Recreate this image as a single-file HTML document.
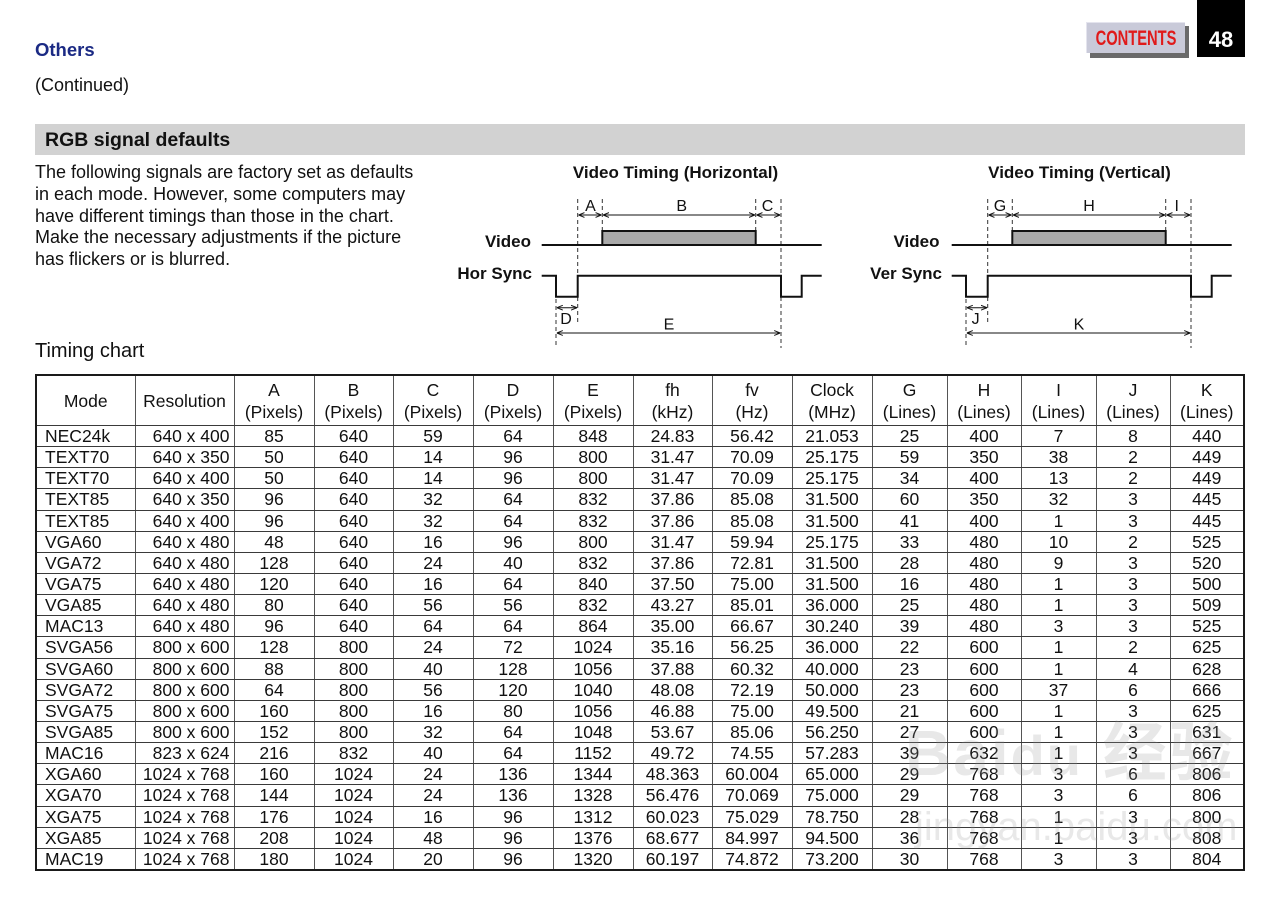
<!DOCTYPE html>
<html>
<head>
<meta charset="utf-8">
<style>
  html,body{margin:0;padding:0;background:#fff;}
  body{width:1280px;height:906px;position:relative;overflow:hidden;font-family:"Liberation Sans",Arial,sans-serif;color:#111;}
  .abs{position:absolute;white-space:nowrap;}
  #others{left:35px;top:39px;font-size:18.5px;font-weight:bold;color:#1b2a84;line-height:22px;}
  #cont{left:35px;top:74px;font-size:18px;line-height:22px;}
  #bar{left:35px;top:124px;width:1210px;height:31px;background:#d2d2d2;}
  #bartxt{left:45px;top:129px;font-size:19.5px;font-weight:bold;line-height:22px;}
  #para{left:35px;top:162px;font-size:18px;line-height:21.75px;white-space:normal;width:400px;}
  #tc{left:35px;top:339px;font-size:20px;line-height:24px;}
  #btnsh{left:1090px;top:26px;width:99px;height:32px;background:#6a6a6a;}
  #btn{left:1086px;top:22px;width:99px;height:31px;background:#c9cad9;border-top:1px solid #e4e4ee;border-left:1px solid #e4e4ee;box-sizing:border-box;}
  #btntxt{left:1086px;top:22px;width:99px;height:31px;}
  #btntxt span{position:absolute;left:50%;top:0;line-height:33px;font-size:21px;font-weight:bold;color:#e01a1a;transform:translateX(-50%) scaleX(0.70);transform-origin:center;white-space:nowrap;}
  #pg{left:1197px;top:0;width:48px;height:57px;background:#000;color:#fff;font-weight:bold;font-size:22px;text-align:center;line-height:22px;}
  #pg span{position:absolute;left:0;width:48px;top:29px;}
  table{position:absolute;left:35px;top:374px;border-collapse:collapse;table-layout:fixed;width:1208px;border:2px solid #1a1a1a;font-size:17.5px;}
  td{border-top:1px solid #3a3a3a;border-bottom:1px solid #3a3a3a;border-left:1px solid #555;border-right:1px solid #555;padding:0;text-align:center;white-space:nowrap;overflow:hidden;line-height:20px;}
  tr.h td{height:48px;line-height:22px;padding-top:1px;}
  tr.d td{height:20.15px;}
  td.m{text-align:left;padding-left:8px;}
  tr.h td.m{text-align:center;padding-left:0;}
  td.r{text-align:right;padding-right:4px;}
  tr.h td.r{text-align:center;padding-right:0;}
  svg{position:absolute;left:0;top:0;}
  .wm{position:absolute;color:rgba(150,150,150,0.22);font-weight:bold;white-space:nowrap;}
</style>
</head>
<body>
<div class="abs" id="others">Others</div>
<div class="abs" id="cont">(Continued)</div>
<div class="abs" id="bar"></div>
<div class="abs" id="bartxt">RGB signal defaults</div>
<div class="abs" id="para">The following signals are factory set as defaults<br>in each mode. However, some computers may<br>have different timings than those in the chart.<br>Make the necessary adjustments if the picture<br>has flickers or is blurred.</div>
<div class="abs" id="tc">Timing chart</div>

<div class="abs" id="btnsh"></div>
<div class="abs" id="btn"></div>
<div class="abs" id="btntxt"><span>CONTENTS</span></div>
<div class="abs" id="pg"><span>48</span></div>

<svg width="1280" height="906" viewBox="0 0 1280 906">
  <defs>
    <marker id="ah" viewBox="0 0 10 10" refX="10" refY="5" markerWidth="6" markerHeight="6" orient="auto-start-reverse" markerUnits="userSpaceOnUse">
      <path d="M0,1 L10,5 L0,9" fill="none" stroke="#111" stroke-width="1.6"/>
    </marker>
  </defs>
  <g id="hdiag" font-family="Liberation Sans, Arial, sans-serif" fill="#111">
    <text x="675.5" y="178" font-size="17" font-weight="bold" text-anchor="middle">Video Timing (Horizontal)</text>
    <g stroke="#333" stroke-width="1" stroke-dasharray="4,3" fill="none">
      <line x1="577.7" y1="199" x2="577.7" y2="322"/>
      <line x1="602.3" y1="199" x2="602.3" y2="232"/>
      <line x1="755.7" y1="199" x2="755.7" y2="232"/>
      <line x1="781" y1="199" x2="781" y2="348"/>
      <line x1="556" y1="299" x2="556" y2="348"/>
    </g>
    <g stroke="#111" stroke-width="1" fill="none">
      <line x1="578.5" y1="215" x2="601.5" y2="215" marker-start="url(#ah)" marker-end="url(#ah)"/>
      <line x1="603" y1="215" x2="755" y2="215" marker-start="url(#ah)" marker-end="url(#ah)"/>
      <line x1="756.5" y1="215" x2="780.2" y2="215" marker-start="url(#ah)" marker-end="url(#ah)"/>
      <line x1="556.8" y1="307.7" x2="577" y2="307.7" marker-start="url(#ah)" marker-end="url(#ah)"/>
      <line x1="556.8" y1="333" x2="780.2" y2="333" marker-start="url(#ah)" marker-end="url(#ah)"/>
    </g>
    <text x="590.5" y="211" font-size="16" text-anchor="middle">A</text>
    <text x="681.7" y="211" font-size="16" text-anchor="middle">B</text>
    <text x="767.5" y="211" font-size="16" text-anchor="middle">C</text>
    <text x="566" y="324" font-size="16" text-anchor="middle">D</text>
    <text x="669" y="329.5" font-size="16" text-anchor="middle">E</text>
    <text x="531" y="247" font-size="17" font-weight="bold" text-anchor="end">Video</text>
    <text x="532" y="279" font-size="17" font-weight="bold" text-anchor="end">Hor Sync</text>
    <g stroke="#111" stroke-width="2" fill="none">
      <line x1="541.7" y1="245" x2="821.7" y2="245"/>
      <rect x="602.3" y="231" width="153.4" height="14" fill="#a9a9a9"/>
      <path d="M541.7,275.7 H556 V296.7 H577.7 V275.7 H781 V296.7 H801.7 V275.7 H821.7"/>
    </g>
  </g>
  <g id="vdiag" font-family="Liberation Sans, Arial, sans-serif" fill="#111" transform="translate(410,0)">
    <text x="669.5" y="178" font-size="17" font-weight="bold" text-anchor="middle">Video Timing (Vertical)</text>
    <g stroke="#333" stroke-width="1" stroke-dasharray="4,3" fill="none">
      <line x1="577.7" y1="199" x2="577.7" y2="322"/>
      <line x1="602.3" y1="199" x2="602.3" y2="232"/>
      <line x1="755.7" y1="199" x2="755.7" y2="232"/>
      <line x1="781" y1="199" x2="781" y2="348"/>
      <line x1="556" y1="299" x2="556" y2="348"/>
    </g>
    <g stroke="#111" stroke-width="1" fill="none">
      <line x1="578.5" y1="215" x2="601.5" y2="215" marker-start="url(#ah)" marker-end="url(#ah)"/>
      <line x1="603" y1="215" x2="755" y2="215" marker-start="url(#ah)" marker-end="url(#ah)"/>
      <line x1="756.5" y1="215" x2="780.2" y2="215" marker-start="url(#ah)" marker-end="url(#ah)"/>
      <line x1="556.8" y1="307.7" x2="577" y2="307.7" marker-start="url(#ah)" marker-end="url(#ah)"/>
      <line x1="556.8" y1="333" x2="780.2" y2="333" marker-start="url(#ah)" marker-end="url(#ah)"/>
    </g>
    <text x="590" y="211" font-size="16" text-anchor="middle">G</text>
    <text x="679" y="211" font-size="16" text-anchor="middle">H</text>
    <text x="766.7" y="211" font-size="16" text-anchor="middle">I</text>
    <text x="565.6" y="324" font-size="16" text-anchor="middle">J</text>
    <text x="669" y="329.5" font-size="16" text-anchor="middle">K</text>
    <text x="529.5" y="247" font-size="17" font-weight="bold" text-anchor="end">Video</text>
    <text x="532" y="279" font-size="17" font-weight="bold" text-anchor="end">Ver Sync</text>
    <g stroke="#111" stroke-width="2" fill="none">
      <line x1="541.7" y1="245" x2="821.7" y2="245"/>
      <rect x="602.3" y="231" width="153.4" height="14" fill="#a9a9a9"/>
      <path d="M541.7,275.7 H556 V296.7 H577.7 V275.7 H781 V296.7 H801.7 V275.7 H821.7"/>
    </g>
  </g>
</svg>

<table>
<colgroup>
<col style="width:99px"><col style="width:99px">
<col style="width:80px"><col style="width:79px"><col style="width:80px"><col style="width:80px"><col style="width:80px"><col style="width:79px"><col style="width:80px"><col style="width:80px">
<col style="width:75px"><col style="width:74px"><col style="width:75px"><col style="width:74px"><col style="width:74px">
</colgroup>
<tr class="h"><td class="m">Mode</td><td class="r">Resolution</td><td>A<br>(Pixels)</td><td>B<br>(Pixels)</td><td>C<br>(Pixels)</td><td>D<br>(Pixels)</td><td>E<br>(Pixels)</td><td>fh<br>(kHz)</td><td>fv<br>(Hz)</td><td>Clock<br>(MHz)</td><td>G<br>(Lines)</td><td>H<br>(Lines)</td><td>I<br>(Lines)</td><td>J<br>(Lines)</td><td>K<br>(Lines)</td></tr>
<tr class="d"><td class="m">NEC24k</td><td class="r">640 x 400</td><td>85</td><td>640</td><td>59</td><td>64</td><td>848</td><td>24.83</td><td>56.42</td><td>21.053</td><td>25</td><td>400</td><td>7</td><td>8</td><td>440</td></tr>
<tr class="d"><td class="m">TEXT70</td><td class="r">640 x 350</td><td>50</td><td>640</td><td>14</td><td>96</td><td>800</td><td>31.47</td><td>70.09</td><td>25.175</td><td>59</td><td>350</td><td>38</td><td>2</td><td>449</td></tr>
<tr class="d"><td class="m">TEXT70</td><td class="r">640 x 400</td><td>50</td><td>640</td><td>14</td><td>96</td><td>800</td><td>31.47</td><td>70.09</td><td>25.175</td><td>34</td><td>400</td><td>13</td><td>2</td><td>449</td></tr>
<tr class="d"><td class="m">TEXT85</td><td class="r">640 x 350</td><td>96</td><td>640</td><td>32</td><td>64</td><td>832</td><td>37.86</td><td>85.08</td><td>31.500</td><td>60</td><td>350</td><td>32</td><td>3</td><td>445</td></tr>
<tr class="d"><td class="m">TEXT85</td><td class="r">640 x 400</td><td>96</td><td>640</td><td>32</td><td>64</td><td>832</td><td>37.86</td><td>85.08</td><td>31.500</td><td>41</td><td>400</td><td>1</td><td>3</td><td>445</td></tr>
<tr class="d"><td class="m">VGA60</td><td class="r">640 x 480</td><td>48</td><td>640</td><td>16</td><td>96</td><td>800</td><td>31.47</td><td>59.94</td><td>25.175</td><td>33</td><td>480</td><td>10</td><td>2</td><td>525</td></tr>
<tr class="d"><td class="m">VGA72</td><td class="r">640 x 480</td><td>128</td><td>640</td><td>24</td><td>40</td><td>832</td><td>37.86</td><td>72.81</td><td>31.500</td><td>28</td><td>480</td><td>9</td><td>3</td><td>520</td></tr>
<tr class="d"><td class="m">VGA75</td><td class="r">640 x 480</td><td>120</td><td>640</td><td>16</td><td>64</td><td>840</td><td>37.50</td><td>75.00</td><td>31.500</td><td>16</td><td>480</td><td>1</td><td>3</td><td>500</td></tr>
<tr class="d"><td class="m">VGA85</td><td class="r">640 x 480</td><td>80</td><td>640</td><td>56</td><td>56</td><td>832</td><td>43.27</td><td>85.01</td><td>36.000</td><td>25</td><td>480</td><td>1</td><td>3</td><td>509</td></tr>
<tr class="d"><td class="m">MAC13</td><td class="r">640 x 480</td><td>96</td><td>640</td><td>64</td><td>64</td><td>864</td><td>35.00</td><td>66.67</td><td>30.240</td><td>39</td><td>480</td><td>3</td><td>3</td><td>525</td></tr>
<tr class="d"><td class="m">SVGA56</td><td class="r">800 x 600</td><td>128</td><td>800</td><td>24</td><td>72</td><td>1024</td><td>35.16</td><td>56.25</td><td>36.000</td><td>22</td><td>600</td><td>1</td><td>2</td><td>625</td></tr>
<tr class="d"><td class="m">SVGA60</td><td class="r">800 x 600</td><td>88</td><td>800</td><td>40</td><td>128</td><td>1056</td><td>37.88</td><td>60.32</td><td>40.000</td><td>23</td><td>600</td><td>1</td><td>4</td><td>628</td></tr>
<tr class="d"><td class="m">SVGA72</td><td class="r">800 x 600</td><td>64</td><td>800</td><td>56</td><td>120</td><td>1040</td><td>48.08</td><td>72.19</td><td>50.000</td><td>23</td><td>600</td><td>37</td><td>6</td><td>666</td></tr>
<tr class="d"><td class="m">SVGA75</td><td class="r">800 x 600</td><td>160</td><td>800</td><td>16</td><td>80</td><td>1056</td><td>46.88</td><td>75.00</td><td>49.500</td><td>21</td><td>600</td><td>1</td><td>3</td><td>625</td></tr>
<tr class="d"><td class="m">SVGA85</td><td class="r">800 x 600</td><td>152</td><td>800</td><td>32</td><td>64</td><td>1048</td><td>53.67</td><td>85.06</td><td>56.250</td><td>27</td><td>600</td><td>1</td><td>3</td><td>631</td></tr>
<tr class="d"><td class="m">MAC16</td><td class="r">823 x 624</td><td>216</td><td>832</td><td>40</td><td>64</td><td>1152</td><td>49.72</td><td>74.55</td><td>57.283</td><td>39</td><td>632</td><td>1</td><td>3</td><td>667</td></tr>
<tr class="d"><td class="m">XGA60</td><td class="r">1024 x 768</td><td>160</td><td>1024</td><td>24</td><td>136</td><td>1344</td><td>48.363</td><td>60.004</td><td>65.000</td><td>29</td><td>768</td><td>3</td><td>6</td><td>806</td></tr>
<tr class="d"><td class="m">XGA70</td><td class="r">1024 x 768</td><td>144</td><td>1024</td><td>24</td><td>136</td><td>1328</td><td>56.476</td><td>70.069</td><td>75.000</td><td>29</td><td>768</td><td>3</td><td>6</td><td>806</td></tr>
<tr class="d"><td class="m">XGA75</td><td class="r">1024 x 768</td><td>176</td><td>1024</td><td>16</td><td>96</td><td>1312</td><td>60.023</td><td>75.029</td><td>78.750</td><td>28</td><td>768</td><td>1</td><td>3</td><td>800</td></tr>
<tr class="d"><td class="m">XGA85</td><td class="r">1024 x 768</td><td>208</td><td>1024</td><td>48</td><td>96</td><td>1376</td><td>68.677</td><td>84.997</td><td>94.500</td><td>36</td><td>768</td><td>1</td><td>3</td><td>808</td></tr>
<tr class="d"><td class="m">MAC19</td><td class="r">1024 x 768</td><td>180</td><td>1024</td><td>20</td><td>96</td><td>1320</td><td>60.197</td><td>74.872</td><td>73.200</td><td>30</td><td>768</td><td>3</td><td>3</td><td>804</td></tr>
</table>

<div class="wm" style="left:905px;top:718px;font-size:64px;line-height:70px;letter-spacing:2px;">Bai<span style="font-size:56px;">du</span> <span style="font-family:'Liberation Sans','Noto Sans CJK SC',sans-serif;">经验</span></div>
<div class="wm" style="left:915px;top:805px;font-size:40px;line-height:44px;font-weight:normal;">jingyan.baidu.com</div>
</body>
</html>
